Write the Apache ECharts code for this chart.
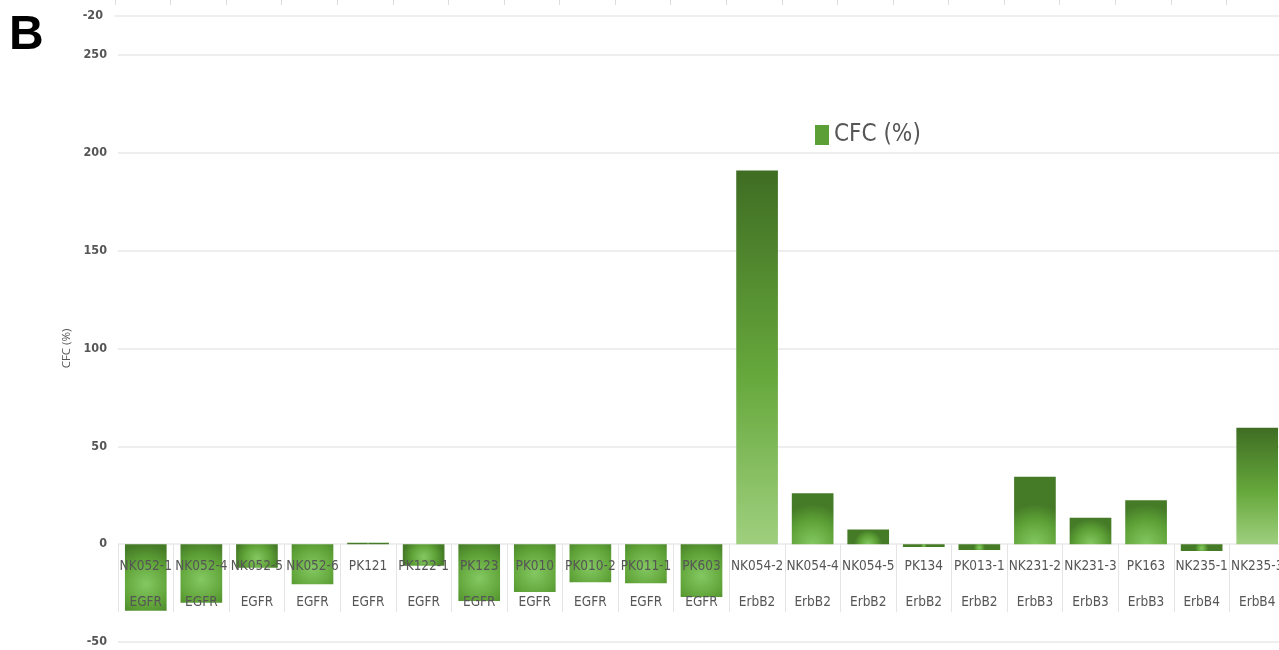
<!DOCTYPE html>
<html>
<head>
<meta charset="utf-8">
<title>CFC (%)</title>
<script src="https://cdn.jsdelivr.net/npm/echarts@6/dist/echarts.min.js"></script>
<style>
  html, body { margin: 0; padding: 0; background: #ffffff; }
  #chart { width: 1279px; height: 650px; }
</style>
</head>
<body>
<div id="chart"></div>
<script>
// Compounds along the category axis
const categories = ['NK052-1', 'NK052-4', 'NK052-5', 'NK052-6', 'PK121', 'PK122-1', 'PK123', 'PK010', 'PK010-2', 'PK011-1', 'PK603',
  'NK054-2', 'NK054-4', 'NK054-5', 'PK134', 'PK013-1', 'NK231-2', 'NK231-3', 'PK163', 'NK235-1', 'NK235-3'];
// Receptor each compound belongs to (second label line)
const receptors = ['EGFR', 'EGFR', 'EGFR', 'EGFR', 'EGFR', 'EGFR', 'EGFR', 'EGFR', 'EGFR', 'EGFR', 'EGFR',
  'ErbB2', 'ErbB2', 'ErbB2', 'ErbB2', 'ErbB2', 'ErbB3', 'ErbB3', 'ErbB3', 'ErbB4', 'ErbB4'];
// CFC (%) per compound
const cfcValues = [-34, -30, -12, -20.5, 0.7, -11, -29, -24.5, -19.5, -20, -27,
  191, 26, 7.5, -1.5, -3, 34.5, 13.5, 22.5, -3.5, 59.5];
// Value axis range and step
const yMin = -50, yMax = 250, yStep = 50;
// Lowest tick of the panel above (only its bottom edge is shown)
const upperPanelMin = -20, upperPanelMax = 0;

const labelFont = "'Liberation Sans Narrow', 'DejaVu Sans Condensed', sans-serif";
const textGrey = '#565656';
const DARK = '#3f6d23', MID = '#66a83c', LIGHT = '#9fcf7e';

function barFill(v) {
  if (Math.abs(v) > 40) {
    return new echarts.graphic.LinearGradient(0, 0, 0, 1, [
      { offset: 0, color: DARK },
      { offset: 0.55, color: MID },
      { offset: 1, color: LIGHT }
    ]);
  }
  return new echarts.graphic.RadialGradient(0.5, v >= 0 ? 1 : 0.6, 0.95, [
    { offset: 0, color: '#84c862' },
    { offset: 0.6, color: '#5ea237' },
    { offset: 1, color: '#457b27' }
  ]);
}

const chart = echarts.init(document.getElementById('chart'), null, { renderer: 'canvas' });

chart.setOption({
  animation: false,
  backgroundColor: '#ffffff',
  graphic: [{
    type: 'text',
    left: 9,
    top: 12,
    style: { text: 'B', font: "bold 48px 'Liberation Sans', Arial, sans-serif", fill: '#000000' }
  }],
  legend: {
    left: 810,
    top: 118,
    icon: 'rect',
    itemWidth: 14,
    itemHeight: 20,
    itemGap: 10,
    textStyle: { fontSize: 24, color: textGrey, fontFamily: labelFont },
    itemStyle: { color: '#5c9f37' },
    data: ['CFC (%)']
  },
  grid: [
    { left: 118, top: 55, width: 1167, height: 587, outerBoundsMode: 'none', containLabel: false },
    { left: 115, top: -40, width: 1167, height: 56, outerBoundsMode: 'none', containLabel: false }
  ],
  xAxis: [{
    // category cells: separators plus two label lines (compound / receptor)
    type: 'category',
    gridIndex: 0,
    data: categories,
    position: 'bottom',
    z: 6,
    axisLine: { show: false, onZero: true },
    axisTick: { show: true, interval: 0, length: 68, lineStyle: { color: '#e4e4e4', width: 1 } },
    axisLabel: {
      interval: 0,
      margin: -94,
      fontSize: 13.5,
      lineHeight: 36,
      color: textGrey,
      fontFamily: labelFont,
      formatter: (name, i) => name + '\n' + receptors[i]
    }
  }, {
    type: 'category',
    gridIndex: 1,
    data: categories,
    position: 'bottom',
    axisLine: { show: false, onZero: true },
    axisTick: { show: true, interval: 0, length: 45, lineStyle: { color: '#dddddd', width: 1 } },
    axisLabel: { show: false }
  }],
  yAxis: [{
    type: 'value',
    gridIndex: 0,
    min: yMin,
    max: yMax,
    interval: yStep,
    name: 'CFC (%)',
    nameLocation: 'middle',
    nameGap: 44,
    nameTextStyle: { fontSize: 11.5, color: textGrey, fontFamily: "'Open Sans', sans-serif" },
    axisLine: { show: false },
    axisTick: { show: false },
    axisLabel: { margin: 11, fontSize: 12.5, fontWeight: 'bold', color: textGrey, fontFamily: labelFont },
    splitLine: { lineStyle: { color: '#e8e8e8', width: 1.5 } }
  }, {
    type: 'value',
    gridIndex: 1,
    min: upperPanelMin,
    max: upperPanelMax,
    interval: 20,
    axisLine: { show: false },
    axisTick: { show: false },
    axisLabel: { margin: 12, fontSize: 12.5, fontWeight: 'bold', color: textGrey, fontFamily: labelFont },
    splitLine: { lineStyle: { color: '#e8e8e8', width: 1.5 } }
  }],
  series: [{
    name: 'CFC (%)',
    type: 'bar',
    xAxisIndex: 0,
    yAxisIndex: 0,
    barCategoryGap: '25%',
    z: 2,
    itemStyle: { color: '#5c9f37' },
    data: cfcValues.map(v => ({ value: v, itemStyle: { color: barFill(v) } }))
  }]
});
</script>
</body>
</html>
